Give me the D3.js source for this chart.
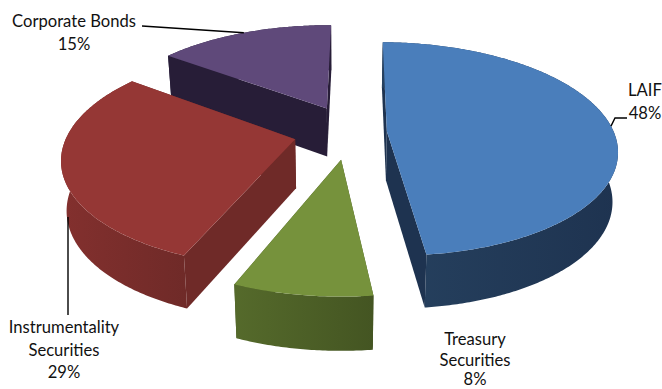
<!DOCTYPE html>
<html>
<head>
<meta charset="utf-8">
<script src="https://cdnjs.cloudflare.com/ajax/libs/d3/7.8.5/d3.min.js"></script>
<style>
html,body{margin:0;padding:0;background:#fff;overflow:hidden}
svg{display:block}
text{font-family:Lato,"Open Sans",sans-serif;font-size:16.6px;fill:#111;text-anchor:middle}
</style>
</head>
<body>
<svg id="chart" width="662" height="389"></svg>
<script>
// Portfolio composition
const categories = ["LAIF", "Treasury Securities", "Instrumentality Securities", "Corporate Bonds"];
const shares = [48, 8, 29, 15];
const topColors = ["#4a7ebb", "#76923c", "#953735", "#5f497a"];
const wallLight = ["#26415f", "#556a2b", "#83302e", "#2d2340"];
const wallDark = ["#1e3350", "#445522", "#6f2a28", "#271d37"];

// Label text blocks: centre x and baseline of each line
const labelLines = [
  [["LAIF", 645, 96], ["48%", 645, 119]],
  [["Treasury", 475, 345], ["Securities", 475, 366], ["8%", 475, 385]],
  [["Instrumentality", 64, 333], ["Securities", 64, 356], ["29%", 64, 378]],
  [["Corporate Bonds", 74, 27], ["15%", 74, 50]]
];
// Leader routes; null stands for the rim point at the middle of the slice
const leaderRoutes = [
  [null, [615, 118], [627, 118]],
  [],
  [[68, 217], [68, 315]],
  [null, [142, 26]]
];

// Projection of the tilted pie
const cx = 341, cy = 135, rx = 228, ry = 105, persp = 0.165, explode = 0.22, depth = 49;
const startTurn = 0.7 * Math.PI / 180;
// Extra nudge of each pulled-out slice, in pixels
const nudgeX = [-4, 7, 2.8, 7.5], nudgeY = [-2.5, 1, -2, -7];
const project = (u, v) => {
  const s = 1 / (1 + persp * v);
  return [cx + rx * u * s, cy - ry * v * s, s];
};
const lower = ([x, y, s]) => [cx + (x - cx) * 0.98, y + depth * Math.pow(s, 0.45)];

const svg = d3.select("#chart");
const defs = svg.append("defs");
const arcs = d3.pie().sort(null).value(d => d)
  .startAngle(startTurn).endAngle(startTurn + 2 * Math.PI)(shares);
const line = d3.line();

// Far slices are painted first so near ones overlap them
const order = [3, 2, 0, 1];

order.forEach(i => {
  const a = arcs[i];
  const mid = (a.startAngle + a.endAngle) / 2;
  const ox = Math.sin(mid) * explode + nudgeX[i] / rx;
  const oy = Math.cos(mid) * explode - nudgeY[i] / ry;
  const point = t => project(ox + Math.sin(t), oy + Math.cos(t));
  const rim = d3.range(a.startAngle, a.endAngle, 0.01).concat([a.endAngle]).map(point);
  const apex = project(ox, oy);

  const grad = defs.append("linearGradient").attr("id", "wall" + i);
  grad.append("stop").attr("offset", "0%").attr("stop-color", wallLight[i]);
  grad.append("stop").attr("offset", "100%").attr("stop-color", wallDark[i]);

  const g = svg.append("g");
  const face = [apex, ...rim];
  // Extruded side faces: the two flat radial cuts and the shaded outer wall,
  // painted from the highest on screen to the lowest so front faces stay on top
  const outer = [...rim, ...rim.slice().reverse().map(lower)];
  const cutA = [apex, rim[0], lower(rim[0]), lower(apex)];
  const cutB = [apex, rim[rim.length - 1], lower(rim[rim.length - 1]), lower(apex)];
  const walls = [
    { poly: cutA, fill: wallDark[i] },
    { poly: cutB, fill: wallDark[i] },
    { poly: outer, fill: `url(#wall${i})` }
  ];
  walls.sort((p, q) => d3.mean(p.poly, d => d[1]) - d3.mean(q.poly, d => d[1]));
  walls.forEach(w => {
    g.append("path")
      .attr("d", line(w.poly.map(p => [p[0], p[1]])) + "Z")
      .attr("fill", w.fill);
  });
  g.append("path")
    .attr("d", line(face.map(p => [p[0], p[1]])) + "Z")
    .attr("fill", topColors[i]);

  // Leader line towards the label
  if (leaderRoutes[i].length) {
    const anchor = point(mid);
    const route = leaderRoutes[i].map(p => p || [anchor[0], anchor[1]]);
    svg.append("path")
      .attr("d", line(route))
      .attr("fill", "none").attr("stroke", "#000").attr("stroke-width", 1.4);
  }
});

labelLines.forEach(lines => lines.forEach(([t, x, y]) => {
  svg.append("text").attr("x", x).attr("y", y).text(t);
}));
</script>
</body>
</html>
